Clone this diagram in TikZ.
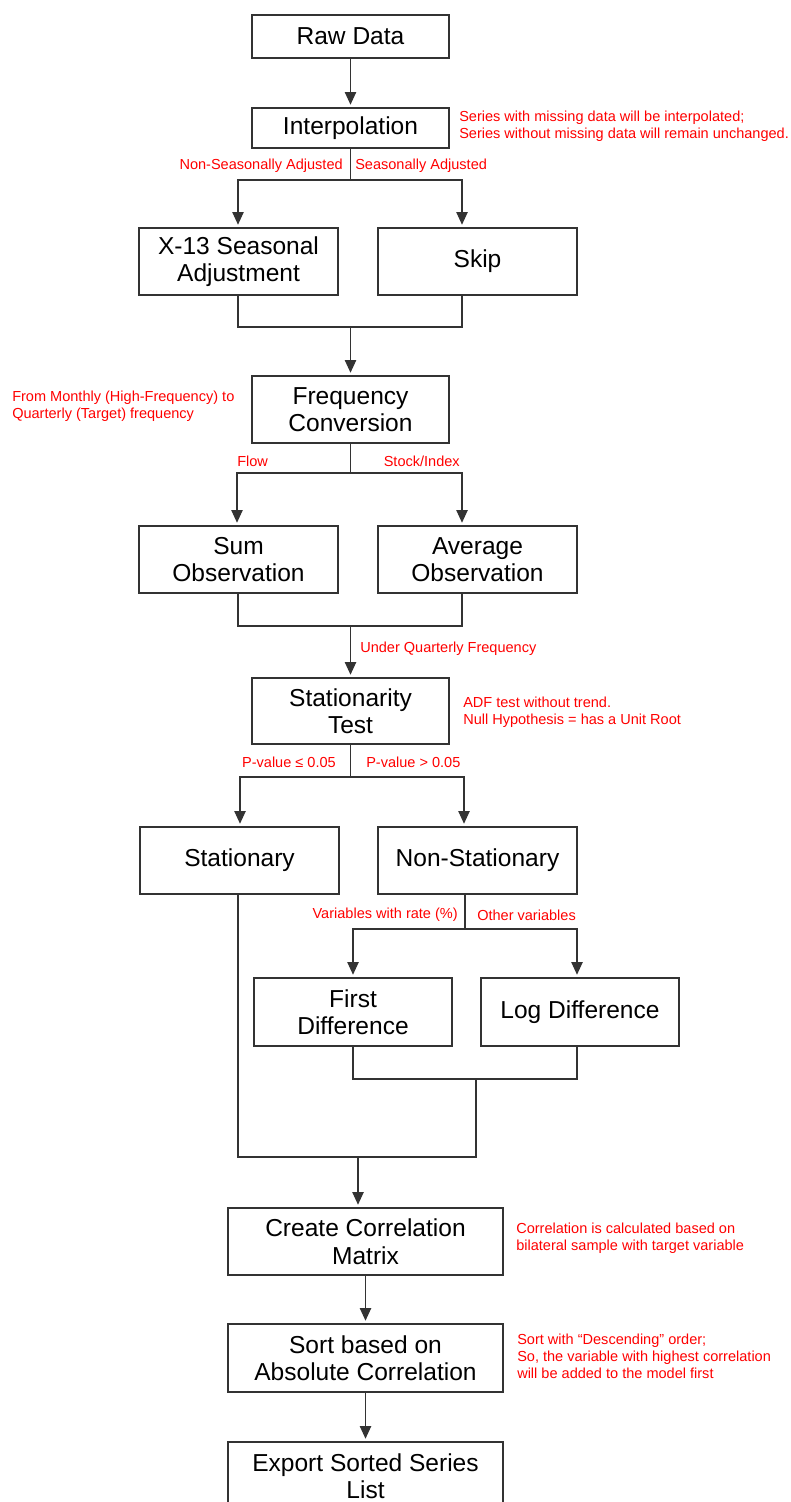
\documentclass[tikz,border=0pt]{standalone}
\usepackage{fontspec}
\setmainfont{Liberation Sans}
\usetikzlibrary{arrows.meta}
\begin{document}
\begin{tikzpicture}[x=0.75pt,y=-0.75pt,
  bw/.style={minimum width=#1*0.75pt},
  bh/.style={minimum height=#1*0.75pt},
  box/.style={draw=black!80, line width=0.9pt, inner sep=0pt, align=center,
    font=\fontsize{18.4}{20.6}\selectfont, text=black},
  note/.style={text=red, inner sep=0pt, align=left, anchor=west,
    font=\fontsize{10.9}{12.9}\selectfont},
  lbl/.style={text=red, inner sep=0pt, font=\fontsize{10.9}{12.9}\selectfont},
  line/.style={draw=black!80, line width=0.9pt},
  arr/.style={line, -{Triangle[length=9.5pt,width=8.5pt]}, shorten >=2pt}]
\fill[white] (0,0) rectangle (790,1502);
\clip (0,0) rectangle (790,1502);

% boxes
\node[box,bw=197,bh=43] (raw) at (350.5,36.5) {Raw Data};
\node[box,bw=197,bh=40] (interp) at (350.5,128) {Interpolation};
\node[box,bw=199,bh=67] (x13) at (238.5,261.5) {X-13 Seasonal\\Adjustment};
\node[box,bw=199,bh=67] (skip) at (477.5,261.5) {Skip};
\node[box,bw=197,bh=67] (freq) at (350.5,409.5) {Frequency\\Conversion};
\node[box,bw=199,bh=67] (sum) at (238.5,559.5) {Sum\\Observation};
\node[box,bw=199,bh=67] (avg) at (477.5,559.5) {Average\\Observation};
\node[box,bw=197,bh=66] (stat) at (350.5,711) {Stationarity\\Test};
\node[box,bw=199,bh=67] (stny) at (239.5,860.5) {Stationary};
\node[box,bw=199,bh=67] (nonst) at (477.5,860.5) {Non-Stationary};
\node[box,bw=198,bh=68] (fd) at (353,1012) {First\\Difference};
\node[box,bw=198,bh=68] (ld) at (580,1012) {Log Difference};
\node[box,bw=275,bh=67] (corr) at (365.5,1241.5) {Create Correlation\\Matrix};
\node[box,bw=275,bh=68] (sort) at (365.5,1358) {Sort based on\\Absolute Correlation};
\node[box,bw=275,bh=68] (exp) at (365.5,1476) {Export Sorted Series\\List};

% notes
\node[note] (n1) at (459,126.5) {Series with missing data will be interpolated;\\Series without missing data will remain unchanged.};
\node[note] (n2) at (12,406.5) {From Monthly (High-Frequency) to\\Quarterly (Target) frequency};
\node[note] (n3) at (463,712) {ADF test without trend.\\Null Hypothesis = has a Unit Root};
\node[note] (n4) at (516,1238) {Correlation is calculated based on\\bilateral sample with target variable};
\node[note] (n5) at (517,1356) {Sort with “Descending” order;\\So, the variable with highest correlation\\will be added to the model first};

% branch labels
\node[lbl,anchor=east] (l1) at (343,166) {Non-Seasonally Adjusted};
\node[lbl,anchor=west] (l2) at (355,166) {Seasonally Adjusted};
\node[lbl,anchor=west] (l3) at (237,461) {Flow};
\node[lbl,anchor=east] (l4) at (460,461) {Stock/Index};
\node[lbl,anchor=west] (l5) at (360,649) {Under Quarterly Frequency};
\node[lbl,anchor=east] (l6) at (336,762) {P-value ≤ 0.05};
\node[lbl,anchor=west] (l7) at (366,762) {P-value > 0.05};
\node[lbl,anchor=east] (l8) at (458,915) {Variables with rate (\%)};
\node[lbl,anchor=west] (l9) at (477,915) {Other variables};

% junctions
\coordinate (j1) at (350.5,180);
\coordinate (m1) at (350.5,327);
\coordinate (j2) at (350.5,473);
\coordinate (m2) at (350.5,626);
\coordinate (j3) at (350.5,777);
\coordinate (j4) at (465,929);
\coordinate (m3) at (476,1079);
\coordinate (m4) at (358,1157);

% connectors
\draw[arr] (raw) -- (interp);
\draw[line] (interp.south) -- (j1);
\draw[arr] (j1) -| (238,0 |- x13.north);
\draw[arr] (j1) -| (462,0 |- skip.north);
\draw[line] (238,0 |- x13.south) |- (462,327) -- (462,0 |- skip.south);
\draw[arr] (m1) -- (freq.north);

\draw[line] (freq.south) -- (j2);
\draw[arr] (j2) -| (237,0 |- sum.north);
\draw[arr] (j2) -| (462,0 |- avg.north);
\draw[line] (238,0 |- sum.south) |- (462,626) -- (462,0 |- avg.south);
\draw[arr] (m2) -- (stat.north);

\draw[line] (stat.south) -- (j3);
\draw[arr] (j3) -| (240,0 |- stny.north);
\draw[arr] (j3) -| (464,0 |- nonst.north);

\draw[line] (465,0 |- nonst.south) -- (j4);
\draw[arr] (j4) -| (353,0 |- fd.north);
\draw[arr] (j4) -| (577,0 |- ld.north);
\draw[line] (353,0 |- fd.south) |- (577,1079) -- (577,0 |- ld.south);
\draw[line] (m3) -- (476,1157) -- (238,1157) -- (238,0 |- stny.south);
\draw[arr] (m4) -- (358,0 |- corr.north);

\draw[arr] (corr) -- (sort);
\draw[arr] (sort) -- (exp);
\end{tikzpicture}
\end{document}
